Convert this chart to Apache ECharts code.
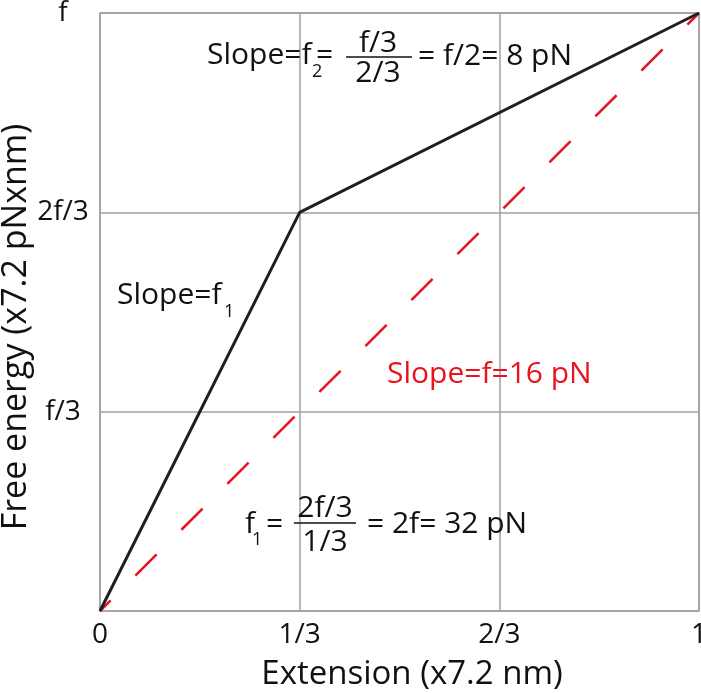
<!DOCTYPE html>
<html lang="en">
<head>
    <meta charset="UTF-8">
    <title>Free energy vs extension</title>
    <style>
        html, body { margin: 0; padding: 0; background: #fff; }
        #main { width: 701px; height: 693px; }
    </style>
</head>
<body>
    <div id="main"></div>

    <script src="https://cdn.jsdelivr.net/npm/echarts@6/dist/echarts.min.js"></script>
    <script type="text/javascript">
        // values in units of 1/3 of the axis range
        var xTickLabels = ['0', '1/3', '2/3', '1'];
        var yTickLabels = ['', 'f/3', '2f/3', 'f'];
        var twoStepX = [0, 1, 3];
        var twoStepY = [0, 2, 3];
        var straightX = [0, 3];
        var straightY = [0, 3];

        var FONT = '"Open Sans", "Noto Sans", sans-serif';
        var gridColor = '#a0a0a0';

        function pairs(xs, ys) {
            var out = [];
            for (var i = 0; i < xs.length; i++) out.push([xs[i], ys[i]]);
            return out;
        }

        function txt(s, x, y, size, color, align) {
            return {
                type: 'text', x: x, y: y, z: 10,
                style: {
                    text: s, fontSize: size, fontFamily: FONT,
                    fill: color || '#111', align: align || 'left', verticalAlign: 'middle'
                }
            };
        }
        function bar(x1, x2, y) {
            return {
                type: 'line', z: 10,
                shape: { x1: x1, y1: y, x2: x2, y2: y },
                style: { stroke: '#111', lineWidth: 1.5 }
            };
        }

        // y axis title, drawn rotated so it can sit where the original has it
        var yTitle = txt('Free energy (x7.2 pNxnm)', 16, 327, 34, null, 'center');
        yTitle.rotation = Math.PI / 2;

        var myChart = echarts.init(document.getElementById('main'));
        var option = {
            animation: false,
            grid: {
                left: 100, right: 2, top: 13, bottom: 82,
                containLabel: false, outerBoundsMode: 'none',
                show: true, borderColor: gridColor, borderWidth: 1.5
            },
            xAxis: {
                type: 'value', min: 0, max: 3, interval: 1,
                name: 'Extension (x7.2 nm)',
                nameLocation: 'middle', nameGap: 47,
                nameTextStyle: { fontSize: 33, fontFamily: FONT, color: '#111', padding: [0, 0, 0, 25] },
                axisLine: { show: false },
                axisTick: { show: false },
                splitLine: { lineStyle: { color: gridColor, width: 1.5 } },
                axisLabel: {
                    margin: 10, fontSize: 28, fontFamily: FONT, color: '#111',
                    formatter: function (v) { return xTickLabels[Math.round(v)]; }
                }
            },
            yAxis: {
                type: 'value', min: 0, max: 3, interval: 1,
                axisLine: { show: false },
                axisTick: { show: false },
                splitLine: { lineStyle: { color: gridColor, width: 1.5 } },
                axisLabel: {
                    margin: 37, align: 'center', fontSize: 28, fontFamily: FONT, color: '#111',
                    formatter: function (v) { return yTickLabels[Math.round(v)]; }
                }
            },
            series: [
                {
                    name: 'straight', type: 'line', symbol: 'none', z: 3,
                    lineStyle: { color: '#e8141c', width: 2.5, type: [30, 35], dashOffset: 15 },
                    data: pairs(straightX, straightY)
                },
                {
                    name: 'two-step', type: 'line', symbol: 'none', z: 4,
                    lineStyle: { color: '#231f20', width: 3 },
                    data: pairs(twoStepX, twoStepY)
                }
            ],
            graphic: [
                yTitle,
                // top: slope of the second segment
                txt('Slope=f', 207, 55, 30),
                txt('2', 312, 72, 18),
                txt('=', 316, 55, 30),
                txt('f/3', 378, 43, 30, null, 'center'),
                bar(346, 412, 57),
                txt('2/3', 378, 73, 30, null, 'center'),
                txt('= f/2= 8 pN', 418, 56, 30),
                // left: slope of the first segment
                txt('Slope=f', 117, 295, 30),
                txt('1', 224, 312, 18),
                // red dashed line
                txt('Slope=f=16 pN', 387, 374, 30, '#e8141c'),
                // bottom: value of f1
                txt('f', 245, 524, 30),
                txt('1', 252, 540, 18),
                txt('=', 266, 524, 30),
                txt('2f/3', 325, 508, 30, null, 'center'),
                bar(294, 356, 523),
                txt('1/3', 325, 542, 30, null, 'center'),
                txt('= 2f= 32 pN', 367, 524, 30)
            ]
        };
        myChart.setOption(option);
    </script>
</body>
</html>
